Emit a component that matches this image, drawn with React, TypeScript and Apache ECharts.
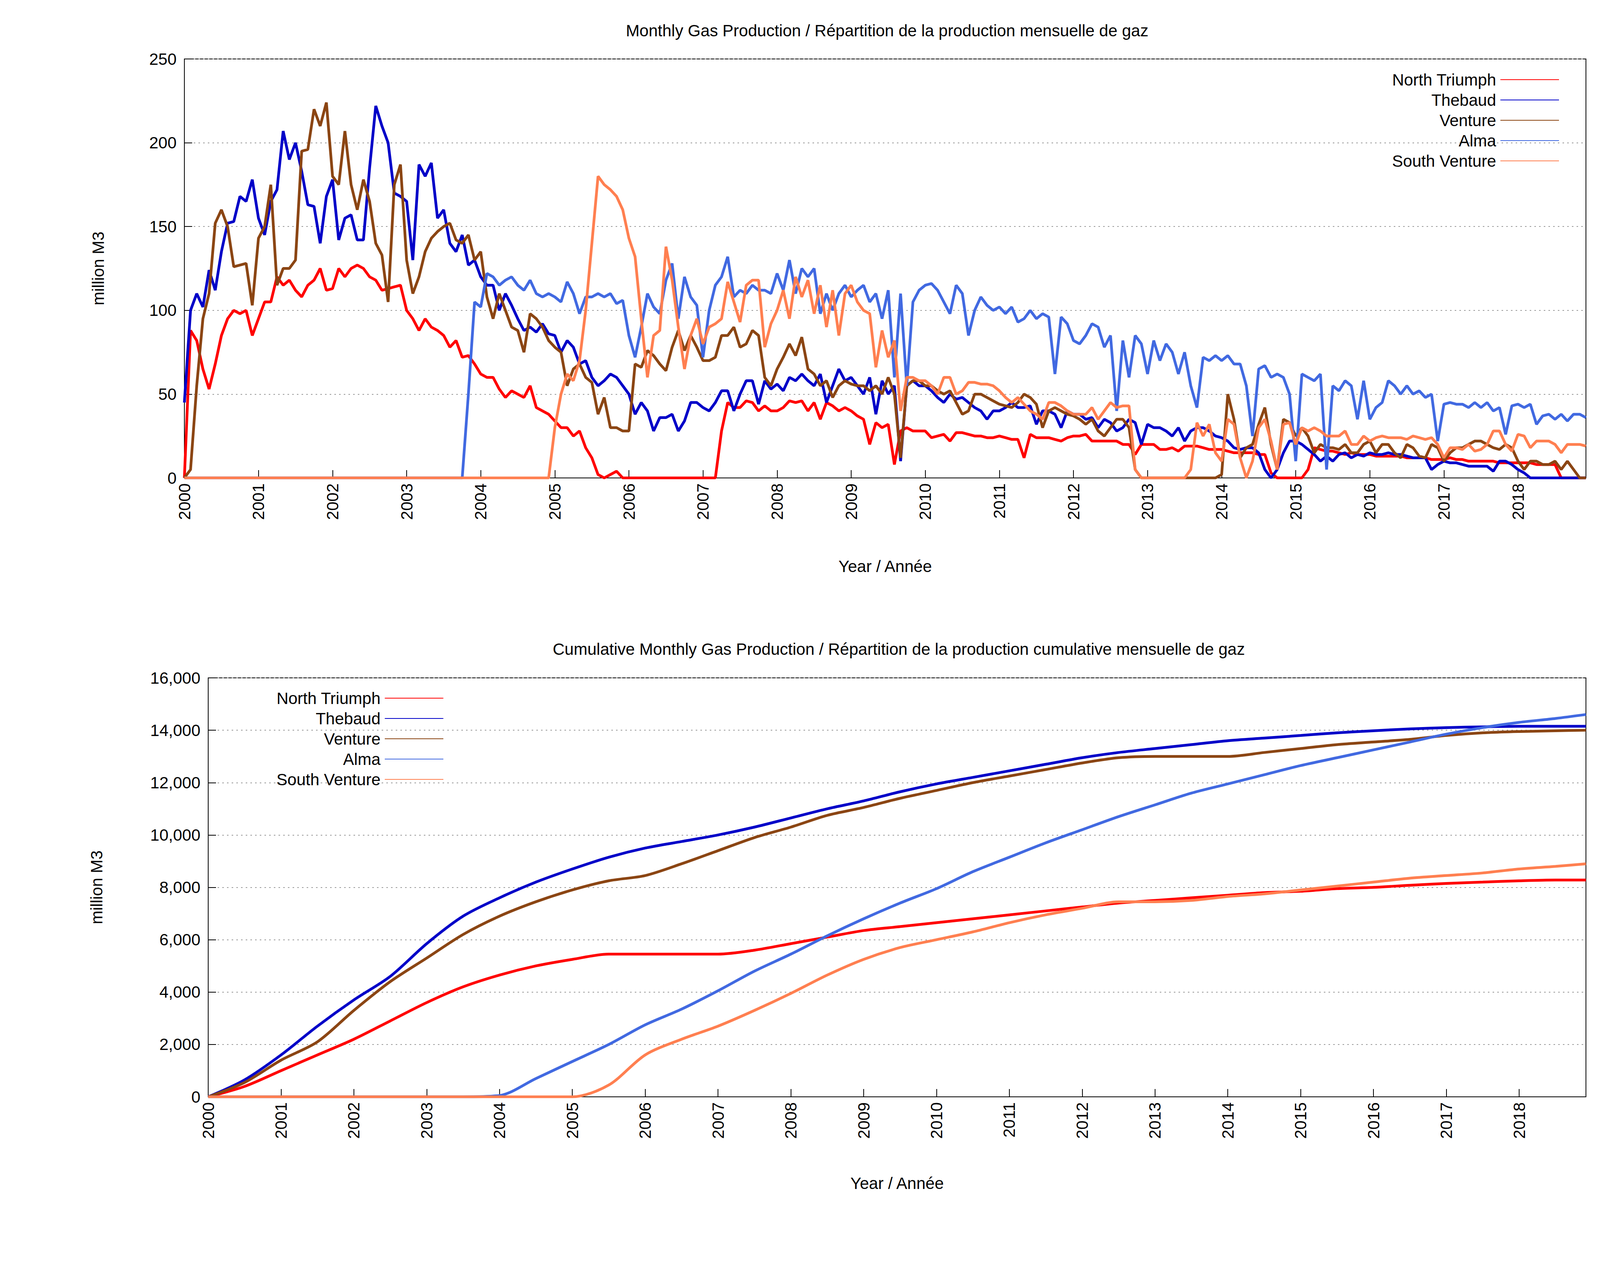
import React, { useEffect, useRef } from "react";
import * as echarts from "echarts";

const names = ["North Triumph", "Thebaud", "Venture", "Alma", "South Venture"];
const colors = ["#ff0000", "#0000c8", "#8b4513", "#4169e1", "#ff7f50"];

const northTriumph = [
  0,88,82,65,53,68,85,95,100,98,100,85,
  95,105,105,120,115,118,112,108,115,118,125,112,
  113,125,120,125,127,125,120,118,112,113,114,115,
  100,95,88,95,90,88,85,78,82,72,73,68,
  62,60,60,53,48,52,50,48,55,42,40,38,
  34,30,30,25,28,18,12,2,0,2,4,0,
  0,0,0,0,0,0,0,0,0,0,0,0,
  0,0,0,28,45,42,42,46,45,40,43,40,
  40,42,46,45,46,40,45,35,45,43,40,42,
  40,37,35,20,33,30,32,8,28,30,28,28,
  28,24,25,26,22,27,27,26,25,25,24,24,
  25,24,23,23,12,26,24,24,24,23,22,24,
  25,25,26,22,22,22,22,22,20,20,14,20,
  20,20,17,17,18,16,19,19,19,18,17,17,
  17,16,15,15,15,15,14,14,3,0,0,0,
  0,0,5,18,17,16,16,15,14,15,14,14,
  14,13,13,13,13,13,12,12,12,12,11,11,
  11,12,11,11,10,10,10,10,10,9,9,9,
  9,9,9,8,8,8,8,0,0,0,0,0,
];
const thebaud = [
  45,100,110,102,124,112,135,152,153,168,165,178,
  155,145,165,172,207,190,200,183,163,162,140,168,
  178,142,155,157,142,142,185,222,210,200,170,168,
  165,130,187,180,188,155,160,140,135,145,127,130,
  120,115,115,100,110,103,95,88,90,87,92,86,
  85,75,82,78,68,70,60,55,58,62,60,55,
  50,38,45,40,28,36,36,38,28,34,45,45,
  42,40,45,52,52,40,50,58,58,44,58,53,
  56,52,60,58,62,58,55,62,45,55,65,58,
  60,55,50,60,38,58,50,55,10,55,58,55,
  55,52,48,45,50,47,48,45,42,40,35,40,
  40,42,45,42,42,43,32,40,40,38,30,40,
  38,38,35,36,30,35,33,28,30,35,33,20,
  32,30,30,28,25,30,22,28,30,30,28,25,
  24,22,18,17,18,18,15,5,0,5,15,22,
  22,20,17,14,10,13,10,14,15,12,14,13,
  15,14,14,15,14,14,13,12,12,12,5,8,
  10,9,9,8,7,7,7,7,4,10,10,8,
  5,3,0,0,0,0,0,0,0,0,0,0,
];
const venture = [
  0,5,55,95,110,152,160,150,126,127,128,103,
  143,150,175,115,125,125,130,195,196,220,210,224,
  180,175,207,175,160,178,165,140,133,105,175,187,
  130,110,120,135,143,147,150,152,142,140,145,130,
  135,108,95,110,100,90,88,75,98,95,90,82,
  78,75,55,65,68,60,57,38,48,30,30,28,
  28,68,66,76,73,68,64,78,88,76,85,78,
  70,70,72,85,85,90,78,80,88,85,60,55,
  65,72,80,73,84,65,62,55,58,48,55,58,
  56,55,55,52,55,50,60,50,12,55,58,58,
  55,55,52,50,52,45,38,40,50,50,48,46,
  44,43,42,45,50,48,44,30,40,42,40,38,
  37,35,32,35,28,25,30,35,35,30,5,0,
  0,0,0,0,0,0,0,0,0,0,0,0,
  2,50,35,12,18,20,32,42,20,5,35,33,
  25,30,25,15,20,18,18,17,20,15,15,20,
  22,15,20,20,15,12,20,18,13,12,20,18,
  10,15,18,18,20,22,22,20,18,17,20,18,
  10,5,10,10,8,8,10,5,10,5,0,0,
];
const alma = [
  0,0,0,0,0,0,0,0,0,0,0,0,
  0,0,0,0,0,0,0,0,0,0,0,0,
  0,0,0,0,0,0,0,0,0,0,0,0,
  0,0,0,0,0,0,0,0,0,0,50,105,
  102,122,120,115,118,120,115,112,118,110,108,110,
  108,105,117,110,98,108,108,110,108,110,104,106,
  85,72,90,110,102,98,118,128,95,120,108,103,
  72,100,115,120,132,108,112,110,115,112,112,110,
  122,112,130,110,125,120,125,98,110,100,110,115,
  108,112,115,105,110,95,112,60,110,55,105,112,
  115,116,112,105,98,115,110,85,100,108,103,100,
  102,98,102,93,95,100,95,98,96,62,96,92,
  82,80,85,92,90,78,85,40,82,60,85,80,
  62,82,70,80,75,62,75,55,42,72,70,73,
  70,73,68,68,55,25,65,67,60,62,60,50,
  10,62,60,58,62,5,55,52,58,55,35,58,
  35,42,45,58,55,50,55,50,52,48,50,22,
  44,45,44,44,42,45,42,45,40,42,26,43,
  44,42,44,32,37,38,35,38,34,38,38,36,
];
const southVenture = [
  0,0,0,0,0,0,0,0,0,0,0,0,
  0,0,0,0,0,0,0,0,0,0,0,0,
  0,0,0,0,0,0,0,0,0,0,0,0,
  0,0,0,0,0,0,0,0,0,0,0,0,
  0,0,0,0,0,0,0,0,0,0,0,0,
  30,50,62,58,70,100,140,180,175,172,168,160,
  143,132,95,60,85,88,138,118,90,65,85,95,
  80,90,92,95,117,105,93,115,118,118,78,92,
  100,112,95,120,108,118,98,115,90,112,85,110,
  115,105,100,98,66,88,72,82,40,60,60,58,
  58,55,50,60,60,50,52,57,57,56,56,55,
  52,48,45,48,44,40,38,35,45,45,43,40,
  38,38,38,42,35,40,45,42,43,43,5,0,
  0,0,0,0,0,0,0,5,33,25,32,15,
  10,35,32,12,0,10,30,35,22,5,32,33,
  20,30,28,30,28,25,25,25,28,20,20,25,
  22,24,25,24,24,24,23,25,24,23,24,20,
  12,18,18,17,20,16,17,20,28,28,20,16,
  26,25,18,22,22,22,20,15,20,20,20,19,
];

// cumulative, half-yearly samples 2000.0 .. 2018.5, then end of 2018 (Nov)
const cumYears = [
  2000,2000.5,2001,2001.5,2002,2002.5,2003,2003.5,2004,2004.5,2005,2005.5,2006,2006.5,2007,2007.5,
  2008,2008.5,2009,2009.5,2010,2010.5,2011,2011.5,2012,2012.5,2013,2013.5,2014,2014.5,2015,2015.5,
  2016,2016.5,2017,2017.5,2018,2018.5,2018.917,
];
const cumNorthTriumph = [
  0,400,1000,1600,2200,2900,3600,4200,4650,5000,5250,5450,5450,5450,5450,5600,
  5850,6100,6350,6500,6650,6800,6950,7100,7250,7400,7500,7600,7700,7800,7850,7950,
  8000,8080,8150,8200,8250,8280,8280,
];
const cumThebaud = [
  0,650,1600,2700,3700,4600,5850,6900,7600,8200,8700,9150,9500,9750,10000,10300,
  10650,11000,11300,11650,11950,12200,12450,12700,12950,13150,13300,13450,13600,13700,13800,13900,
  13980,14050,14100,14130,14150,14150,14150,
];
const cumVenture = [
  0,550,1400,2100,3300,4400,5300,6200,6900,7450,7900,8250,8450,8900,9400,9900,
  10300,10750,11050,11400,11700,12000,12250,12500,12750,12950,13000,13000,13000,13150,13300,13450,
  13550,13650,13800,13900,13950,13980,14000,
];
const cumAlma = [
  0,0,0,0,0,0,0,0,50,700,1350,2000,2750,3350,4050,4800,
  5450,6150,6800,7400,7950,8600,9150,9700,10200,10700,11150,11600,11950,12300,12650,12950,
  13250,13550,13850,14100,14300,14450,14600,
];
const cumSouthVenture = [
  0,0,0,0,0,0,0,0,0,0,0,450,1600,2200,2700,3300,
  3950,4650,5250,5700,6000,6300,6650,6950,7200,7450,7450,7500,7650,7750,7900,8050,
  8200,8350,8450,8550,8700,8800,8900,
];

const monthly = [northTriumph, thebaud, venture, alma, southVenture];
const cumulative = [cumNorthTriumph, cumThebaud, cumVenture, cumAlma, cumSouthVenture];

const FONT = "Liberation Sans";
const FS = 42;

export default function App() {
  const ref = useRef<HTMLDivElement>(null);
  useEffect(() => {
    const chart = echarts.init(ref.current!, null, { renderer: "svg" });
    const xAxisBase = (gridIndex: number, gap: number) => ({
      type: "value",
      gridIndex,
      min: 2000,
      max: 2018.917,
      interval: 1,
      name: "Year / Année",
      nameLocation: "middle",
      nameGap: gap,
      nameTextStyle: { fontFamily: FONT, fontSize: FS, color: "#000" },
      axisLine: { lineStyle: { color: "#000", width: 2 } },
      axisTick: { inside: true, length: 20, lineStyle: { color: "#000", width: 2 } },
      axisLabel: {
        rotate: 90, fontFamily: FONT, fontSize: FS, color: "#000", margin: 14,
        showMaxLabel: false, formatter: (v: number) => String(Math.round(v)),
      },
      splitLine: { show: false },
    });
    const yAxisBase = (gridIndex: number, max: number, interval: number, gap: number) => ({
      type: "value",
      gridIndex,
      min: 0,
      max,
      interval,
      name: "million M3",
      nameLocation: "middle",
      nameGap: gap,
      nameTextStyle: { fontFamily: FONT, fontSize: FS, color: "#000" },
      axisLine: { show: true, lineStyle: { color: "#000", width: 2 } },
      axisTick: { inside: true, length: 20, lineStyle: { color: "#000", width: 2 } },
      axisLabel: { fontFamily: FONT, fontSize: FS, color: "#000", margin: 20 },
      splitLine: { show: true, lineStyle: { color: "#999", type: [4, 8], width: 2 } },
    });
    const series: any[] = [];
    names.forEach((n, k) => {
      series.push({
        type: "line", name: n, xAxisIndex: 0, yAxisIndex: 0, showSymbol: false,
        lineStyle: { width: 7, color: colors[k] }, itemStyle: { color: colors[k] },
        data: monthly[k].map((v, i) => [2000 + i / 12, v]),
      });
    });
    names.forEach((n, k) => {
      series.push({
        type: "line", name: n, xAxisIndex: 1, yAxisIndex: 1, showSymbol: false, smooth: 0.3,
        lineStyle: { width: 7, color: colors[k] }, itemStyle: { color: colors[k] },
        data: cumulative[k].map((v, i) => [cumYears[i], v]),
      });
    });
    const legendBase = {
      orient: "vertical",
      align: "right",
      itemWidth: 150,
      itemHeight: 20,
      itemGap: 10,
      icon: "path://M0,9 L150,9 L150,11 L0,11 Z",
      textStyle: { fontFamily: FONT, fontSize: FS, color: "#000", padding: [0, 6, 0, 0] },
      data: names,
    };
    chart.setOption({
      animation: false,
      backgroundColor: "#fff",
      title: [
        { text: "Monthly Gas Production / Répartition de la production mensuelle de gaz", left: 2266, top: 52, textAlign: "center",
          textStyle: { fontFamily: FONT, fontSize: FS, fontWeight: "normal", color: "#000" } },
        { text: "Cumulative Monthly Gas Production / Répartition de la production cumulative mensuelle de gaz", left: 2296, top: 1636, textAlign: "center",
          textStyle: { fontFamily: FONT, fontSize: FS, fontWeight: "normal", color: "#000" } },
      ],
      legend: [
        { ...legendBase, right: 118, top: 178 },
        { ...legendBase, right: 2974, top: 1762 },
      ],
      grid: [
        { left: 472, top: 151, width: 3588, height: 1073, show: true, borderColor: "#000", borderWidth: 2 },
        { left: 533, top: 1736, width: 3527, height: 1073, show: true, borderColor: "#000", borderWidth: 2 },
      ],
      xAxis: [xAxisBase(0, 205), xAxisBase(1, 200)],
      yAxis: [yAxisBase(0, 250, 50, 200), yAxisBase(1, 16000, 2000, 265)],
      series,
    });
    return () => chart.dispose();
  }, []);
  return <div ref={ref} style={{ position: "fixed", left: 0, top: 0, width: 4114, height: 3232 }} />;
}
